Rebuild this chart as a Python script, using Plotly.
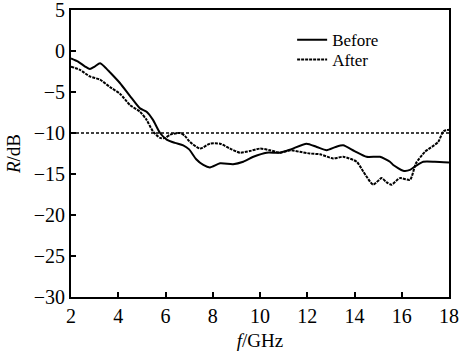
import plotly.graph_objects as go

# Reflection loss before / after treatment
f_before = [2.0, 2.3, 2.6, 2.8, 3.0, 3.23, 3.45, 3.65, 4.07, 4.5, 4.92, 5.2, 5.47, 5.77,
            6.05, 6.4, 6.75, 7.0, 7.3, 7.6, 7.88, 8.31, 8.86, 9.29, 9.72, 10.28, 10.84,
            11.3, 11.97, 12.4, 12.82, 13.2, 13.52, 14.0, 14.51, 15.08, 15.5, 15.64,
            16.06, 16.35, 16.6, 16.91, 17.4, 18.0]
r_before = [-0.9, -1.3, -1.9, -2.2, -1.9, -1.5, -2.0, -2.6, -3.9, -5.5, -7.0, -7.4, -8.4, -10.0,
            -10.8, -11.2, -11.5, -12.0, -13.2, -13.9, -14.2, -13.7, -13.8, -13.5, -12.9, -12.4, -12.4,
            -12.0, -11.3, -11.7, -12.1, -11.7, -11.5, -12.2, -12.9, -12.9, -13.5, -13.9,
            -14.6, -14.5, -14.0, -13.5, -13.5, -13.6]

f_after = [2.0, 2.38, 2.8, 3.23, 3.65, 4.07, 4.5, 4.92, 5.2, 5.47, 5.77, 6.0, 6.19, 6.61,
           6.8, 7.04, 7.46, 7.88, 8.31, 8.73, 9.15, 9.57, 10.0, 10.42, 10.84, 11.3, 11.69,
           12.11, 12.54, 13.1, 13.52, 14.09, 14.37, 14.79, 15.15, 15.35, 15.57, 15.92,
           16.35, 16.6, 16.98, 17.54, 17.76, 18.0]
r_after = [-1.9, -2.3, -3.1, -3.5, -4.4, -5.2, -6.6, -7.4, -8.4, -9.8, -10.6, -10.6, -10.2, -10.0,
           -10.3, -11.1, -11.9, -11.3, -11.3, -11.9, -12.4, -12.2, -11.9, -12.1, -12.4, -12.1, -12.3,
           -12.5, -12.6, -13.1, -12.9, -13.5, -14.7, -16.3, -15.5, -16.0, -16.3, -15.5,
           -15.7, -13.7, -12.3, -11.1, -9.8, -9.6]

threshold_db = -10
f_range = [2, 18]

x_ticks = [2, 4, 6, 8, 10, 12, 14, 16, 18]
y_ticks = [5, 0, -5, -10, -15, -20, -25, -30]

serif = "Liberation Serif"

fig = go.Figure()
fig.add_trace(go.Scatter(x=f_range, y=[threshold_db, threshold_db], mode="lines",
                         line=dict(color="black", width=1.6, dash="3px,2px"),
                         showlegend=False, hoverinfo="skip"))
fig.add_trace(go.Scatter(x=f_before, y=r_before, mode="lines", name="Before", legend="legend",
                         line=dict(color="black", width=2, shape="spline", smoothing=0.6)))
fig.add_trace(go.Scatter(x=f_after, y=r_after, mode="lines", name="After", legend="legend2",
                         line=dict(color="black", width=2, dash="3px,1px", shape="spline", smoothing=0.6)))

axis_common = dict(showline=True, linecolor="black", linewidth=2, mirror=True,
                   ticks="inside", ticklen=5, tickwidth=2, tickcolor="black",
                   showgrid=False, zeroline=False, automargin=False,
                   ticklabeloverflow="allow",
                   tickfont=dict(family=serif, size=20, color="black"))

fig.update_xaxes(range=f_range, tickvals=x_ticks, ticktext=[str(v) for v in x_ticks],
                 title=dict(text="<i>f</i>/GHz", font=dict(family=serif, size=19, color="black"),
                            standoff=8),
                 **axis_common)
fig.update_yaxes(range=[-30, 5], tickvals=y_ticks,
                 title=dict(text="<i>R</i>/dB", font=dict(family=serif, size=19, color="black"),
                            standoff=8),
                 **axis_common)

legend_style = dict(x=0.585, xanchor="left", yanchor="middle",
                    bgcolor="rgba(0,0,0,0)", itemwidth=30,
                    font=dict(family=serif, size=17, color="black"))

fig.update_layout(
    width=461, height=351,
    margin=dict(l=71, r=12, t=10, b=54),
    paper_bgcolor="white", plot_bgcolor="white",
    legend=dict(y=0.895, **legend_style),
    legend2=dict(y=0.826, **legend_style),
)

fig.write_html("out.html")
